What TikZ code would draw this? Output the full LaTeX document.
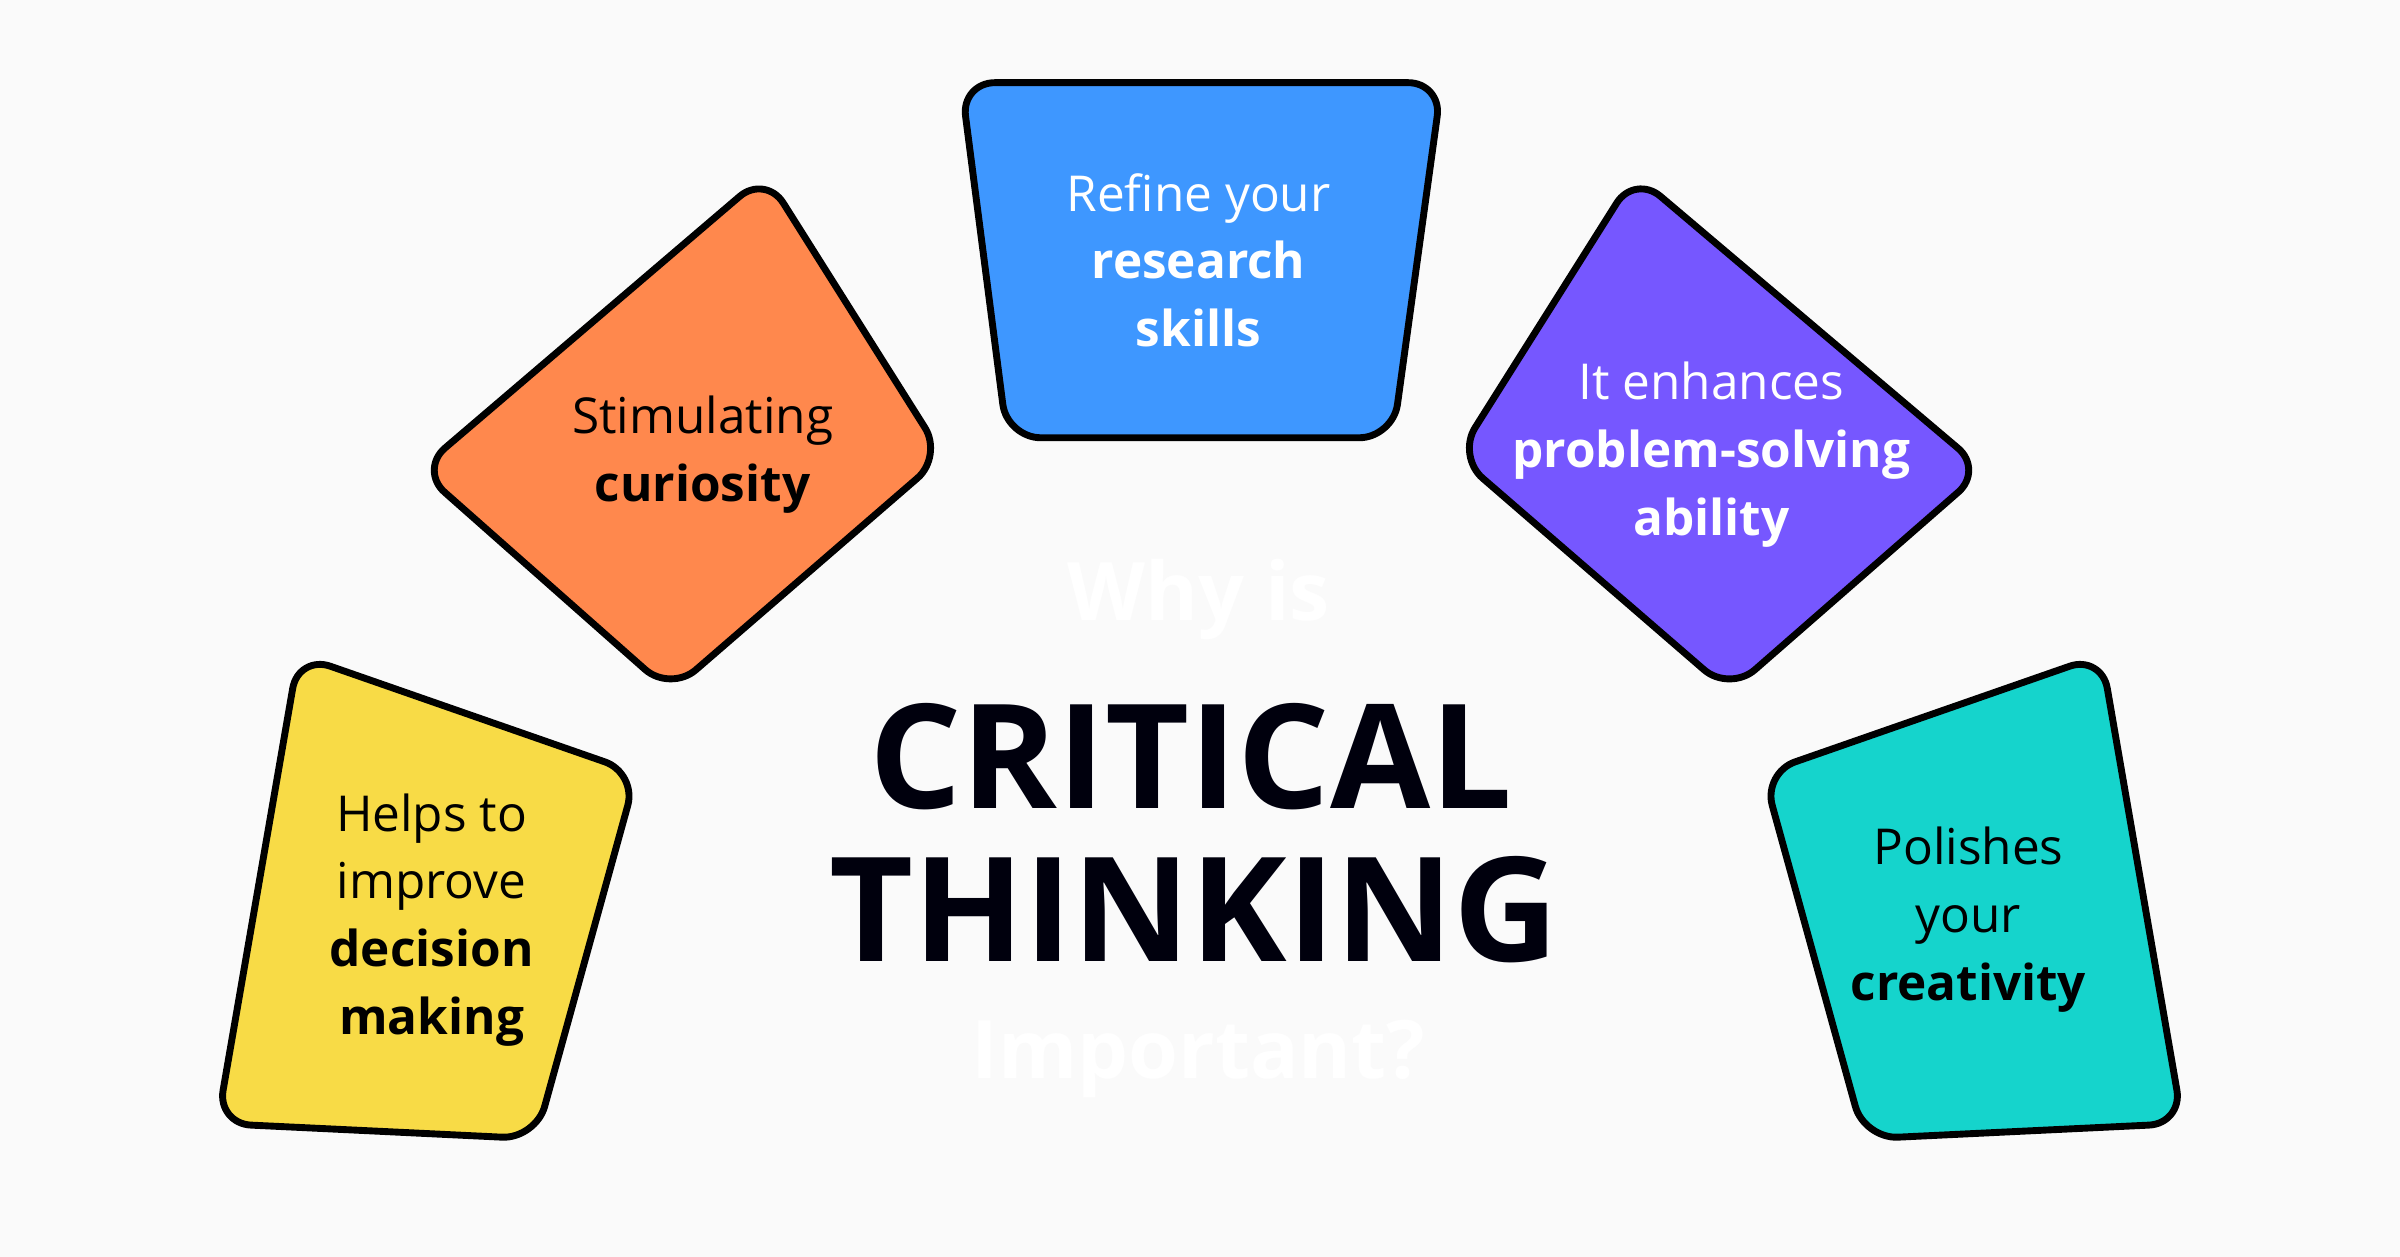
\documentclass[tikz,border=0pt]{standalone}
\usepackage{fontspec}
\setmainfont{Open Sans}
\begin{document}
\begin{tikzpicture}[x=0.1mm,y=-0.1mm,
  card/.style={draw=black,line width=0.45mm,rounded corners=2.2mm},
  lbl/.style={align=center,font=\fontsize{9.2pt}{12.6pt}\selectfont},
  big/.style={font=\fontsize{27pt}{29pt}\selectfont\bfseries,text=black!95!blue}]
\fill[black!2] (0,0) rectangle (1568,821);
\useasboundingbox (0,0) rectangle (1568,821);
\definecolor{cor}{HTML}{FF884D}\definecolor{cbl}{HTML}{3E97FF}
\definecolor{cpu}{HTML}{7657FF}\definecolor{cye}{HTML}{F8DB46}\definecolor{cte}{HTML}{15D4CC}
\draw[card,fill=cor] (500,114) -- (616,298) -- (438,452) -- (274,307) -- cycle;
\draw[card,fill=cbl] (628,54) -- (942,54) -- (910,286) -- (658,286) -- cycle;
\draw[card,fill=cpu] (1068,114) -- (1296,307) -- (1130,452) -- (952,298) -- cycle;
\draw[card,fill=cye] (195,428) -- (416,505) -- (350,744) -- (142,734) -- cycle;
\draw[card,fill=cte] (1373,428) -- (1152,505) -- (1218,744) -- (1426,734) -- cycle;
\node[lbl] (o) at (459,297) {Stimulating\\\textbf{curiosity}};
\node[lbl,white] (b) at (783,170) {Refine your\\\textbf{research}\\\textbf{skills}};
\node[lbl,white] (p) at (1118,297) {It enhances\\\textbf{problem-solving}\\\textbf{ability}};
\node[lbl] (y) at (282,601) {Helps to\\improve\\\textbf{decision}\\\textbf{making}};
\node[lbl] (t) at (1286,601) {Polishes\\your\\\textbf{creativity}};
\node[font=\fontsize{15pt}{17pt}\selectfont\bfseries,white] (w) at (783,392) {Why is};
\node[big] (c1) at (778,494) {CRITICAL};
\node[big] (c2) at (780,594) {THINKING};
\node[font=\fontsize{15pt}{17pt}\selectfont\bfseries,white] (i) at (783,692) {Important?};
\end{tikzpicture}
\end{document}
